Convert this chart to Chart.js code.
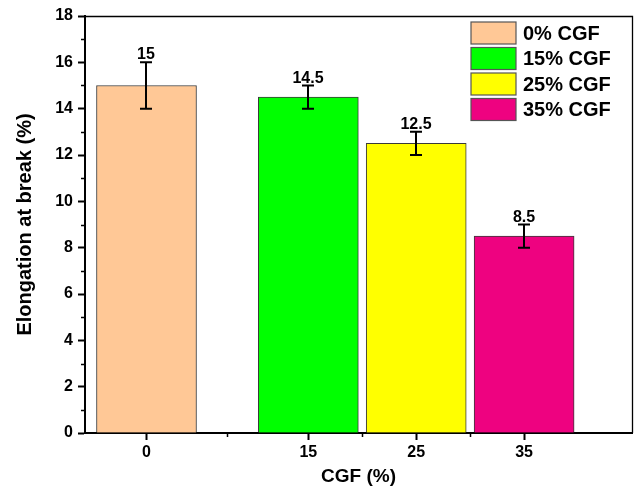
<!DOCTYPE html>
<html>
<head>
<meta charset="utf-8">
<script src="https://cdn.jsdelivr.net/npm/chart.js@4"></script>
<style>
  html, body { margin: 0; padding: 0; background: #fff; }
  #wrap { width: 638px; height: 487px; }
</style>
</head>
<body>
<div id="wrap"><canvas id="c" width="638" height="487"></canvas></div>
<script>
// CGF loading levels and measured elongation at break
const categories = ['0', '15', '25', '35'];
const seriesNames = ['0% CGF', '15% CGF', '25% CGF', '35% CGF'];
const elongation = [15, 14.5, 12.5, 8.5];
const elongationError = [1, 0.5, 0.5, 0.5];
const yTicks = [0, 2, 4, 6, 8, 10, 12, 14, 16, 18];

const barColors = ['#FFC896', '#00FF00', '#FFFF00', '#EE0280'];
const FONT = "'Liberation Sans', Arial, Helvetica, sans-serif";

// slot of each group on the x axis: the control bar is set apart by an extra half slot
const slotOf = i => (i === 0 ? 0 : i + 0.5);

Chart.defaults.font.family = FONT;
Chart.defaults.color = '#000';

const datasets = categories.map((c, i) => ({
  label: seriesNames[i],
  data: [{ x: slotOf(i), y: elongation[i] }],
  backgroundColor: barColors[i],
  borderColor: '#3a3a3a',
  borderWidth: 1,
  borderSkipped: 'bottom',
  grouped: false,
  barThickness: 100
}));

// minor ticks, top/right frame
const framePlugin = {
  id: 'frame',
  afterDraw(chart) {
    const { ctx, chartArea: a, scales: { x, y } } = chart;
    ctx.save();
    ctx.strokeStyle = '#000';
    ctx.lineWidth = 1.3;
    ctx.beginPath();
    ctx.moveTo(a.left, a.top + 0.5);
    ctx.lineTo(a.right + 0.5, a.top + 0.5);
    ctx.lineTo(a.right + 0.5, a.bottom);
    ctx.stroke();

    ctx.lineWidth = 1.5;
    ctx.beginPath();
    for (let v = 1; v < 18; v += 2) {
      const py = Math.round(y.getPixelForValue(v)) + 0.5;
      ctx.moveTo(a.left - 4, py);
      ctx.lineTo(a.left, py);
    }
    for (let i = 0; i < categories.length - 1; i++) {
      const mid = (slotOf(i) + slotOf(i + 1)) / 2;
      const px = Math.round(x.getPixelForValue(mid)) + 0.5;
      ctx.moveTo(px, a.bottom);
      ctx.lineTo(px, a.bottom + 4);
    }
    ctx.stroke();
    ctx.restore();
  }
};

// error bars with the value written above each bar
const errorPlugin = {
  id: 'errorBars',
  afterDatasetsDraw(chart) {
    const { ctx, scales: { y } } = chart;
    ctx.save();
    ctx.strokeStyle = '#000';
    ctx.fillStyle = '#000';
    ctx.lineWidth = 2;
    ctx.font = 'bold 16px ' + FONT;
    ctx.textAlign = 'center';
    ctx.textBaseline = 'alphabetic';
    chart.data.datasets.forEach((ds, i) => {
      const bar = chart.getDatasetMeta(i).data[0];
      const cx = Math.round(bar.x);
      const top = y.getPixelForValue(elongation[i] + elongationError[i]);
      const bot = y.getPixelForValue(elongation[i] - elongationError[i]);
      ctx.beginPath();
      ctx.moveTo(cx, top);
      ctx.lineTo(cx, bot);
      ctx.moveTo(cx - 6, top);
      ctx.lineTo(cx + 6, top);
      ctx.moveTo(cx - 6, bot);
      ctx.lineTo(cx + 6, bot);
      ctx.stroke();
      ctx.fillText(String(elongation[i]), cx, top - 3);
    });
    ctx.restore();
  }
};

// legend inside the plot, top right
const legendPlugin = {
  id: 'insideLegend',
  afterDraw(chart) {
    const { ctx, chartArea: a } = chart;
    const left = a.right - 161;
    const top0 = a.top + 6;
    ctx.save();
    ctx.font = 'bold 20px ' + FONT;
    ctx.textAlign = 'left';
    ctx.textBaseline = 'middle';
    chart.data.datasets.forEach((ds, i) => {
      const top = top0 + i * 25.5;
      ctx.fillStyle = ds.backgroundColor;
      ctx.fillRect(left, top, 45, 22);
      ctx.strokeStyle = '#555';
      ctx.lineWidth = 1.2;
      ctx.strokeRect(left, top, 45, 22);
      ctx.fillStyle = '#000';
      ctx.fillText(ds.label, left + 52, top + 12);
    });
    ctx.restore();
  }
};

new Chart(document.getElementById('c'), {
  type: 'bar',
  data: { datasets },
  options: {
    responsive: false,
    devicePixelRatio: 1,
    animation: false,
    layout: { padding: { top: 16, right: 6, left: 0, bottom: 0 } },
    plugins: {
      legend: { display: false },
      tooltip: { enabled: false }
    },
    scales: {
      x: {
        type: 'linear',
        min: -0.57,
        max: 4.5,
        offset: false,
        afterBuildTicks: s => { s.ticks = categories.map((c, i) => ({ value: slotOf(i) })); },
        ticks: {
          callback: (v, i) => categories[i],
          color: '#000',
          font: { size: 16, weight: 'bold' },
          padding: 3,
          maxRotation: 0,
          autoSkip: false
        },
        grid: { offset: false, drawOnChartArea: false, tickLength: 7, tickWidth: 2, tickColor: '#000' },
        border: { color: '#000', width: 2 },
        title: {
          display: true,
          text: 'CGF (%)',
          color: '#000',
          font: { size: 19, weight: 'bold' },
          padding: { top: 0, bottom: -1 }
        },
        afterFit: s => { s.height = 54; }
      },
      y: {
        min: 0,
        max: 18,
        afterBuildTicks: s => { s.ticks = yTicks.map(v => ({ value: v })); },
        ticks: {
          color: '#000',
          font: { size: 16, weight: 'bold' },
          padding: 5
        },
        grid: { drawOnChartArea: false, tickLength: 7, tickWidth: 2, tickColor: '#000' },
        border: { color: '#000', width: 2 },
        title: {
          display: true,
          text: 'Elongation at break (%)',
          color: '#000',
          font: { size: 20, weight: 'bold' },
          padding: { top: 13, bottom: 0 }
        },
        afterFit: s => { s.width = 85; }
      }
    }
  },
  plugins: [framePlugin, errorPlugin, legendPlugin]
});
</script>
</body>
</html>
